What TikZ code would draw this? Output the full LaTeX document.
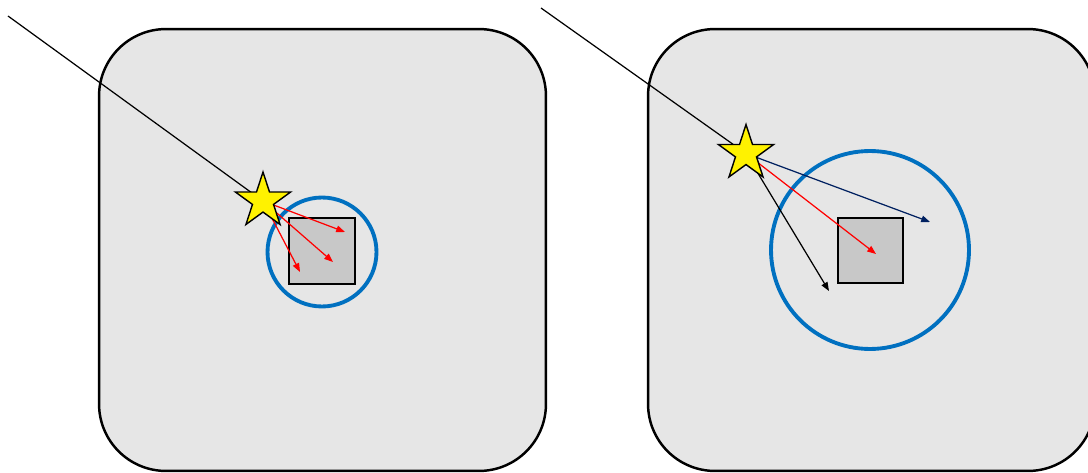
\documentclass[tikz,border=0pt]{standalone}
\usepackage{xcolor}
\usepackage{tikz}
\usetikzlibrary{arrows.meta, shapes.geometric}

\definecolor{panelgray}{RGB}{230,230,230}
\definecolor{boxgray}{RGB}{200,200,200}
\definecolor{ringblue}{RGB}{0,112,192}
\definecolor{raynavy}{RGB}{0,32,96}

\begin{document}
\begin{tikzpicture}[
  x=0.02cm, y=-0.02cm,
  panel/.style={rectangle, draw=black, line width=1.4pt, fill=panelgray,
                rounded corners=1.34cm, minimum width=8.94cm, minimum height=8.84cm, inner sep=0},
  ring/.style={circle, draw=ringblue, line width=2.2pt, inner sep=0},
  target/.style={rectangle, draw=black, line width=1.1pt, fill=boxgray,
                 minimum size=1.31cm, inner sep=0},
  source/.style={star, star points=5, star point ratio=2.618, draw=black, line width=0.8pt,
                 fill=yellow, minimum size=1.16cm, inner sep=0},
  ray/.style={line width=0.7pt},
  arrow/.style={ray, -{Triangle[length=5pt, width=3.8pt]}},
]
  \useasboundingbox (0,0) rectangle (1088,473);

  % left panel
  \node[panel] (panelA) at (322.5,250) {};
  \node[ring, minimum size=2.18cm] (ringA) at (322,252) {};
  \node[target] (boxA) at (322,251) {};
  \coordinate (srcA) at (263,201);
  \coordinate (inA) at (8,16);
  \coordinate (hitA1) at (345,232);
  \coordinate (hitA2) at (333,262);
  \coordinate (hitA3) at (300,272);

  \draw[ray] (inA) -- (srcA);
  \draw[arrow, red] (srcA) -- (hitA1);
  \draw[arrow, red] (srcA) -- (hitA2);
  \draw[arrow, red] (srcA) -- (hitA3);
  \node[source] (starA) at (srcA) {};

  % right panel
  \node[panel] (panelB) at (871.5,250) {};
  \node[ring, minimum size=3.96cm] (ringB) at (870,250) {};
  \node[target] (boxB) at (870.5,250.5) {};
  \coordinate (srcB) at (746,153.5);
  \coordinate (inB) at (541,8);
  \coordinate (hitB1) at (930,222);
  \coordinate (hitB2) at (876,254);
  \coordinate (hitB3) at (829,291);

  \draw[ray] (inB) -- (srcB);
  \draw[arrow, raynavy] (srcB) -- (hitB1);
  \draw[arrow, red] (srcB) -- (hitB2);
  \draw[arrow, black] (srcB) -- (hitB3);
  \node[source] (starB) at (srcB) {};
\end{tikzpicture}
\end{document}
